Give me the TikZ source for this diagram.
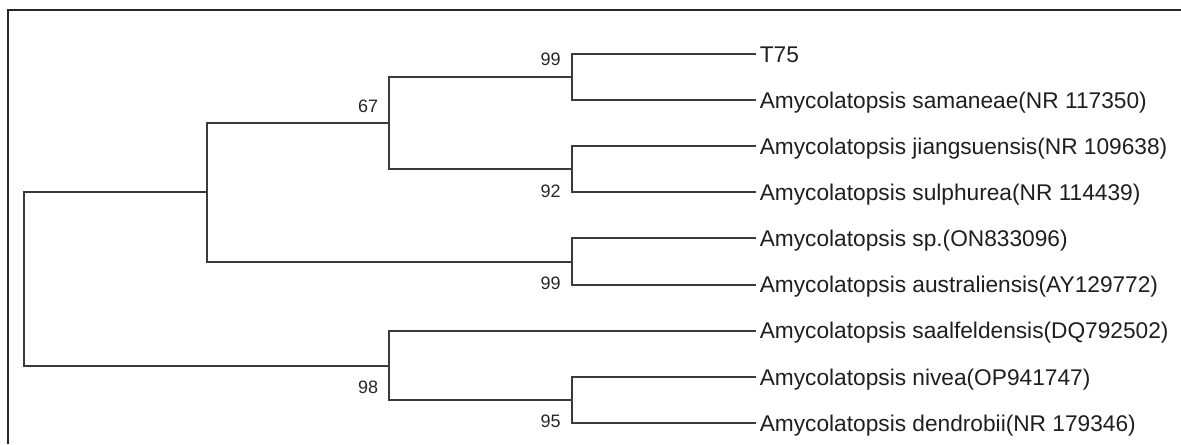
\documentclass[tikz,border=0pt]{standalone}
\usepackage{fontspec}
\setmainfont{Liberation Sans}
\definecolor{branchcol}{HTML}{3A3A3A}
\definecolor{textcol}{HTML}{1E1E24}
\begin{document}
\begin{tikzpicture}[x=0.5pt,y=-0.5pt,
  branch/.style={draw=branchcol,line width=1pt,line cap=rect,line join=miter},
  frameline/.style={draw=black!85,line width=0.7pt},
  taxon/.style={anchor=base west,inner sep=0pt,text=textcol,
    font=\fontsize{11.35}{13.6}\selectfont},
  support/.style={anchor=base east,inner sep=0pt,text=black!85,
    font=\fontsize{9}{11}\selectfont}]
\useasboundingbox (0,0) rectangle (1181,444);
% frame (top and left edges)
\draw[frameline] (8,444) |- (1181,10);

% internal nodes (at the stem height of each clade)
\coordinate (root) at (24,279.5);
\coordinate (nA)   at (207,192.25);
\coordinate (n67)  at (389.3,123);
\coordinate (n99a) at (571.7,76.9);
\coordinate (n92)  at (571.7,169.2);
\coordinate (n99b) at (571.7,261.5);
\coordinate (n98)  at (389.3,365.8);
\coordinate (n95)  at (571.7,399.9);

% tips
\foreach \i/\y in {1/53.8,2/99.95,3/146.1,4/192.25,5/238.4,6/284.55,7/330.7,8/376.85,9/423}
  \coordinate (t\i) at (755,\y);

% taxon labels
\node[taxon] (l1) at ([xshift=2.2pt,yshift=-4.1pt]t1) {T75};
\node[taxon] (l2) at ([xshift=2.2pt,yshift=-4.1pt]t2) {Amycolatopsis samaneae(NR 117350)};
\node[taxon] (l3) at ([xshift=2.2pt,yshift=-4.1pt]t3) {Amycolatopsis jiangsuensis(NR 109638)};
\node[taxon] (l4) at ([xshift=2.2pt,yshift=-4.1pt]t4) {Amycolatopsis sulphurea(NR 114439)};
\node[taxon] (l5) at ([xshift=2.2pt,yshift=-4.1pt]t5) {Amycolatopsis sp.(ON833096)};
\node[taxon] (l6) at ([xshift=2.2pt,yshift=-4.1pt]t6) {Amycolatopsis australiensis(AY129772)};
\node[taxon] (l7) at ([xshift=2.2pt,yshift=-4.1pt]t7) {Amycolatopsis saalfeldensis(DQ792502)};
\node[taxon] (l8) at ([xshift=2.2pt,yshift=-4.1pt]t8) {Amycolatopsis nivea(OP941747)};
\node[taxon] (l9) at ([xshift=2.2pt,yshift=-4.1pt]t9) {Amycolatopsis dendrobii(NR 179346)};

% branches
\draw[branch] (root) |- (nA);
\draw[branch] (root) |- (n98);
\draw[branch] (nA) |- (n67);
\draw[branch] (nA) |- (n99b);
\draw[branch] (n67) |- (n99a);
\draw[branch] (n67) |- (n92);
\draw[branch] (n99a) |- (t1);
\draw[branch] (n99a) |- (t2);
\draw[branch] (n92) |- (t3);
\draw[branch] (n92) |- (t4);
\draw[branch] (n99b) |- (t5);
\draw[branch] (n99b) |- (t6);
\draw[branch] (n98) |- (t7);
\draw[branch] (n98) |- (n95);
\draw[branch] (n95) |- (t8);
\draw[branch] (n95) |- (t9);

% bootstrap values
\node[support] (b99a) at (561,66) {99};
\node[support] (b67)  at (378.5,112.5) {67};
\node[support] (b92)  at (561,197.3) {92};
\node[support] (b99b) at (561,289.3) {99};
\node[support] (b98)  at (378.5,393.3) {98};
\node[support] (b95)  at (561,427.7) {95};
\end{tikzpicture}
\end{document}
